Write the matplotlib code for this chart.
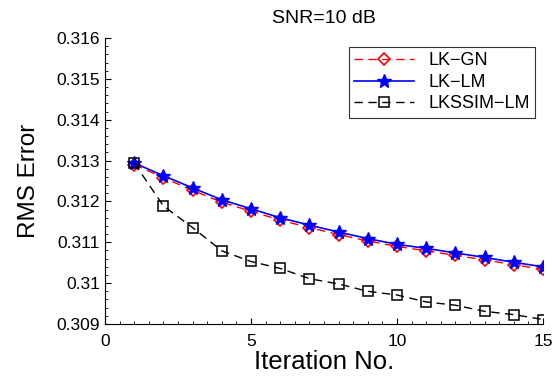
import matplotlib
matplotlib.use('Agg')
import matplotlib.pyplot as plt
from matplotlib.ticker import MultipleLocator

iters = list(range(1, 16))
lk_gn = [0.31290, 0.31258, 0.31227, 0.31198, 0.31176, 0.31154, 0.31136, 0.31119,
         0.31103, 0.31090, 0.31079, 0.31068, 0.31057, 0.31045, 0.31034]
lk_lm = [0.31294, 0.31263, 0.31233, 0.31204, 0.31182, 0.31160, 0.31142, 0.31125,
         0.31109, 0.31095, 0.31085, 0.31074, 0.31063, 0.31051, 0.31040]
lkssim_lm = [0.31294, 0.31189, 0.31136, 0.31079, 0.31053, 0.31036, 0.31011, 0.30998,
             0.30980, 0.30971, 0.30954, 0.30946, 0.30931, 0.30923, 0.30911]
yticks = [0.309, 0.31, 0.311, 0.312, 0.313, 0.314, 0.315, 0.316]
ytick_labels = ['0.309', '0.31', '0.311', '0.312', '0.313', '0.314', '0.315', '0.316']

plt.rcParams['font.family'] = ['Liberation Sans', 'DejaVu Sans']

fig = plt.figure(figsize=(5.57, 3.78), dpi=100)
ax = fig.add_axes([105/557, 1 - 324/378, (543-105)/557, (324-38)/378])

ax.plot(iters, lk_gn, color='red', linestyle=(0, (6, 4)), linewidth=1,
        marker='D', markersize=6, markerfacecolor='none', markeredgecolor='red',
        markeredgewidth=1.2, label='LK\u2212GN')
ax.plot(iters, lk_lm, color='blue', linestyle='-', linewidth=1.2,
        marker='*', markersize=10, markerfacecolor='blue', markeredgecolor='blue',
        label='LK\u2212LM')
ax.plot(iters, lkssim_lm, color='black', linestyle=(0, (6, 4)), linewidth=1,
        marker='s', markersize=7, markerfacecolor='none', markeredgecolor='black',
        markeredgewidth=1.1, label='LKSSIM\u2212LM')

ax.set_xlim(0, 15)
ax.set_ylim(0.309, 0.316)
ax.set_xticks([0, 5, 10, 15])
ax.set_yticks(yticks)
ax.set_yticklabels(ytick_labels)
ax.xaxis.set_minor_locator(MultipleLocator(0.5))
ax.yaxis.set_minor_locator(MultipleLocator(0.0002))
ax.tick_params(which='both', direction='in', labelsize=12.5)
ax.tick_params(which='major', length=4)
ax.tick_params(which='minor', length=2)
ax.tick_params(axis='x', pad=7)
ax.spines['top'].set_visible(False)
ax.spines['right'].set_visible(False)

ax.set_xlabel('Iteration No.', fontsize=18.5, labelpad=1)
ax.set_ylabel('RMS Error', fontsize=17.5, labelpad=12)
ax.set_title('SNR=10 dB', fontsize=14, pad=11)

leg = ax.legend(loc='upper right', bbox_to_anchor=(535/557, 1 - 47/378),
                bbox_transform=fig.transFigure, fontsize=13, frameon=True,
                fancybox=False, edgecolor='black', handlelength=3.3,
                borderpad=0.3, labelspacing=0.25, borderaxespad=0)
leg.get_frame().set_linewidth(0.8)

fig.savefig('out.png', dpi=100)
